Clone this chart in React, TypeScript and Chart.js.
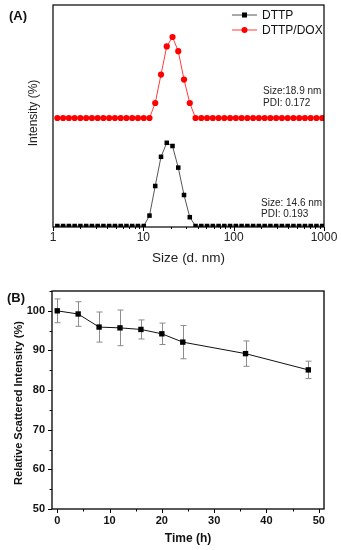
import React, { useEffect, useRef } from "react";
import { Chart, registerables } from "chart.js";
Chart.register(...registerables);

// ---------- Panel A data (DLS size distribution) ----------
const sizeBins = [
  1.117, 1.294, 1.499, 1.736, 2.01, 2.328, 2.696, 3.122, 3.615, 4.187, 4.849, 5.615,
  6.503, 7.531, 8.721, 10.1, 11.7, 13.54, 15.69, 18.17, 21.04, 24.36, 28.21, 32.67,
  37.84, 43.82, 50.75, 58.77, 68.06, 78.82, 91.28, 105.7, 122.4, 141.8, 164.2, 190.1,
  220.2, 255.0, 295.3, 342.0, 396.1, 458.7, 531.2, 615.1, 712.4, 825.0, 955.4,
];
const dttpIntensity = [
  0, 0, 0, 0, 0, 0, 0, 0, 0, 0, 0, 0,
  0, 0, 0, 0, 2.6, 10, 17.3, 20.8, 20, 14.6, 7.75, 2.2,
  0, 0, 0, 0, 0, 0, 0, 0, 0, 0, 0, 0,
  0, 0, 0, 0, 0, 0, 0, 0, 0, 0, 0,
];
const dttpDoxIntensity = [
  0, 0, 0, 0, 0, 0, 0, 0, 0, 0, 0, 0,
  0, 0, 0, 0, 0, 3.75, 10.85, 17.9, 20.25, 16.7, 9.6, 3.75,
  0, 0, 0, 0, 0, 0, 0, 0, 0, 0, 0, 0,
  0, 0, 0, 0, 0, 0, 0, 0, 0, 0, 0,
];
const doxOffset = 27;
const sizeTicks = [1, 10, 100, 1000];
const seriesNamesA = ["DTTP", "DTTP/DOX"];
const annotationsA = [
  ["Size:18.9 nm", "PDI: 0.172"],
  ["Size: 14.6 nm", "PDI: 0.193"],
];

// ---------- Panel B data (stability) ----------
const timeH = [0, 4, 8, 12, 16, 20, 24, 36, 48];
const relIntensity = [100, 99.2, 95.9, 95.7, 95.3, 94.2, 92.1, 89.2, 85.1];
const relError = [3.0, 3.1, 3.8, 4.5, 2.4, 2.7, 4.2, 3.2, 2.2];
const timeTicks = [0, 10, 20, 30, 40, 50];
const relTicks = [50, 60, 70, 80, 90, 100];

const SANS = '"Liberation Sans", Arial, sans-serif';

const panelAPlugin = {
  id: "panelA",
  afterDraw(chart: any) {
    const { ctx, chartArea: a, scales } = chart;
    const x = scales.x;
    ctx.save();
    // frame
    ctx.strokeStyle = "#000";
    ctx.lineWidth = 1.2;
    ctx.strokeRect(a.left, a.top, a.right - a.left, a.bottom - a.top);
    // x ticks (log)
    ctx.lineWidth = 1;
    for (let d = 1; d <= 100; d *= 10) {
      for (let m = 1; m <= 10; m++) {
        const v = m * d;
        const px = Math.round(x.getPixelForValue(v)) + 0.5;
        const len = m === 1 || m === 10 ? 4 : 2;
        ctx.beginPath();
        ctx.moveTo(px, a.bottom);
        ctx.lineTo(px, a.bottom + len);
        ctx.stroke();
      }
    }
    // tick labels
    ctx.fillStyle = "#222";
    ctx.font = `12px ${SANS}`;
    ctx.textAlign = "center";
    ctx.textBaseline = "middle";
    sizeTicks.forEach((t) => {
      ctx.fillText(String(t), x.getPixelForValue(t), a.bottom + 11);
    });
    // axis titles
    ctx.font = `13.5px ${SANS}`;
    ctx.fillText("Size (d. nm)", (a.left + a.right) / 2, a.bottom + 31);
    ctx.save();
    ctx.translate(34, (a.top + a.bottom) / 2 - 3);
    ctx.rotate(-Math.PI / 2);
    ctx.font = `12px ${SANS}`;
    ctx.fillText("Intensity (%)", 0, 0);
    ctx.restore();
    // panel label
    ctx.font = `bold 13px ${SANS}`;
    ctx.textAlign = "left";
    ctx.fillStyle = "#111";
    ctx.fillText("(A)", 9, 16);
    // legend
    const legend = [
      { name: seriesNamesA[0], line: "#555", fill: "#000", style: "rect" },
      { name: seriesNamesA[1], line: "#ff3b3b", fill: "#ff0000", style: "circle" },
    ];
    legend.forEach((it, i) => {
      const yy = 15 + i * 15;
      ctx.strokeStyle = it.line;
      ctx.lineWidth = 1;
      ctx.beginPath();
      ctx.moveTo(232, yy);
      ctx.lineTo(257, yy);
      ctx.stroke();
      ctx.fillStyle = it.fill;
      if (it.style === "rect") {
        ctx.fillRect(244.5 - 2.5, yy - 2.5, 5, 5);
      } else {
        ctx.beginPath();
        ctx.arc(244.5, yy, 3, 0, Math.PI * 2);
        ctx.fill();
      }
      ctx.fillStyle = "#111";
      ctx.font = `12px ${SANS}`;
      ctx.textBaseline = "middle";
      ctx.fillText(it.name, 262, yy + 1);
    });
    // annotations
    ctx.font = `10px ${SANS}`;
    ctx.fillStyle = "#222";
    ctx.fillText(annotationsA[0][0], 263, 91);
    ctx.fillText(annotationsA[0][1], 263, 103);
    ctx.fillText(annotationsA[1][0], 261, 203);
    ctx.fillText(annotationsA[1][1], 261, 214.5);
    ctx.restore();
  },
};

const panelBPlugin = {
  id: "panelB",
  beforeDatasetsDraw(chart: any) {
    const { ctx, scales } = chart;
    const x = scales.x;
    const y = scales.y;
    ctx.save();
    ctx.strokeStyle = "#8c8c8c";
    ctx.lineWidth = 1;
    timeH.forEach((t, i) => {
      const px = Math.round(x.getPixelForValue(t)) + 0.5;
      const yt = y.getPixelForValue(relIntensity[i] + relError[i]);
      const yb = y.getPixelForValue(relIntensity[i] - relError[i]);
      ctx.beginPath();
      ctx.moveTo(px, yt);
      ctx.lineTo(px, yb);
      ctx.moveTo(px - 3, yt);
      ctx.lineTo(px + 3, yt);
      ctx.moveTo(px - 3, yb);
      ctx.lineTo(px + 3, yb);
      ctx.stroke();
    });
    ctx.restore();
  },
  afterDraw(chart: any) {
    const { ctx, chartArea: a, scales } = chart;
    const x = scales.x;
    const y = scales.y;
    ctx.save();
    ctx.strokeStyle = "#000";
    ctx.lineWidth = 1.3;
    ctx.strokeRect(a.left, a.top, a.right - a.left, a.bottom - a.top);
    ctx.lineWidth = 1;
    // y ticks
    for (let v = 50; v <= 105; v += 5) {
      const py = Math.round(y.getPixelForValue(v)) + 0.5;
      const len = v % 10 === 0 ? 4 : 2.5;
      ctx.beginPath();
      ctx.moveTo(a.left, py);
      ctx.lineTo(a.left - len, py);
      ctx.stroke();
    }
    // x ticks
    for (let v = 0; v <= 50; v += 5) {
      const px = Math.round(x.getPixelForValue(v)) + 0.5;
      const len = v % 10 === 0 ? 4 : 2.5;
      ctx.beginPath();
      ctx.moveTo(px, a.bottom);
      ctx.lineTo(px, a.bottom + len);
      ctx.stroke();
    }
    ctx.fillStyle = "#111";
    ctx.font = `bold 11px ${SANS}`;
    ctx.textBaseline = "middle";
    ctx.textAlign = "right";
    relTicks.forEach((t) => {
      ctx.fillText(String(t), a.left - 7, y.getPixelForValue(t));
    });
    ctx.textAlign = "center";
    timeTicks.forEach((t) => {
      ctx.fillText(String(t), x.getPixelForValue(t), a.bottom + 12);
    });
    ctx.font = `bold 12px ${SANS}`;
    ctx.fillText("Time (h)", (a.left + a.right) / 2 + 0, a.bottom + 30);
    ctx.save();
    ctx.translate(19, (a.top + a.bottom) / 2 + 3);
    ctx.rotate(-Math.PI / 2);
    ctx.font = `bold 11px ${SANS}`;
    ctx.fillText("Relative Scattered Intensity (%)", 0, 0);
    ctx.restore();
    ctx.font = `bold 13px ${SANS}`;
    ctx.textAlign = "left";
    ctx.fillText("(B)", 7, 28);
    ctx.restore();
  },
};

function PanelA() {
  const ref = useRef<HTMLCanvasElement>(null);
  useEffect(() => {
    if (!ref.current) return;
    const chart = new Chart(ref.current, {
      type: "line",
      data: {
        datasets: [
          {
            label: seriesNamesA[0],
            data: sizeBins.map((s, i) => ({ x: s, y: dttpIntensity[i] })),
            borderColor: "#555",
            borderWidth: 1,
            pointStyle: "rect",
            pointRadius: 3.2,
            pointBackgroundColor: "#000",
            pointBorderColor: "#000",
            pointBorderWidth: 0,
          },
          {
            label: seriesNamesA[1],
            data: sizeBins.map((s, i) => ({ x: s, y: dttpDoxIntensity[i] + doxOffset })),
            borderColor: "#ff3b3b",
            borderWidth: 1,
            pointStyle: "circle",
            pointRadius: 3.1,
            pointBackgroundColor: "#ff0000",
            pointBorderColor: "#ff0000",
            pointBorderWidth: 0,
          },
        ],
      },
      options: {
        animation: false,
        responsive: false,
        layout: { padding: { left: 53, right: 17, top: 5, bottom: 38 } },
        plugins: { legend: { display: false }, tooltip: { enabled: false } },
        scales: {
          x: { type: "logarithmic", min: 1, max: 1000, display: false },
          y: { type: "linear", min: -0.25, max: 55.25, display: false },
        },
      },
      plugins: [panelAPlugin],
    });
    return () => chart.destroy();
  }, []);
  return <canvas ref={ref} width={341} height={265} style={{ position: "absolute", left: 0, top: 0 }} />;
}

function PanelB() {
  const ref = useRef<HTMLCanvasElement>(null);
  useEffect(() => {
    if (!ref.current) return;
    const chart = new Chart(ref.current, {
      type: "line",
      data: {
        datasets: [
          {
            label: "Relative Scattered Intensity",
            data: timeH.map((t, i) => ({ x: t, y: relIntensity[i] })),
            borderColor: "#111",
            borderWidth: 1,
            pointStyle: "rect",
            pointRadius: 3.8,
            pointBackgroundColor: "#000",
            pointBorderColor: "#000",
            pointBorderWidth: 0,
          },
        ],
      },
      options: {
        animation: false,
        responsive: false,
        layout: { padding: { left: 52, right: 17, top: 21, bottom: 41 } },
        plugins: { legend: { display: false }, tooltip: { enabled: false } },
        scales: {
          x: { type: "linear", min: -1, max: 51, display: false },
          y: { type: "linear", min: 50, max: 105, display: false },
        },
      },
      plugins: [panelBPlugin],
    });
    return () => chart.destroy();
  }, []);
  return <canvas ref={ref} width={341} height={280} style={{ position: "absolute", left: 0, top: 270 }} />;
}

export default function App() {
  return (
    <div style={{ position: "absolute", left: 0, top: 0, width: 341, height: 550, background: "#fff" }}>
      <PanelA />
      <PanelB />
    </div>
  );
}
